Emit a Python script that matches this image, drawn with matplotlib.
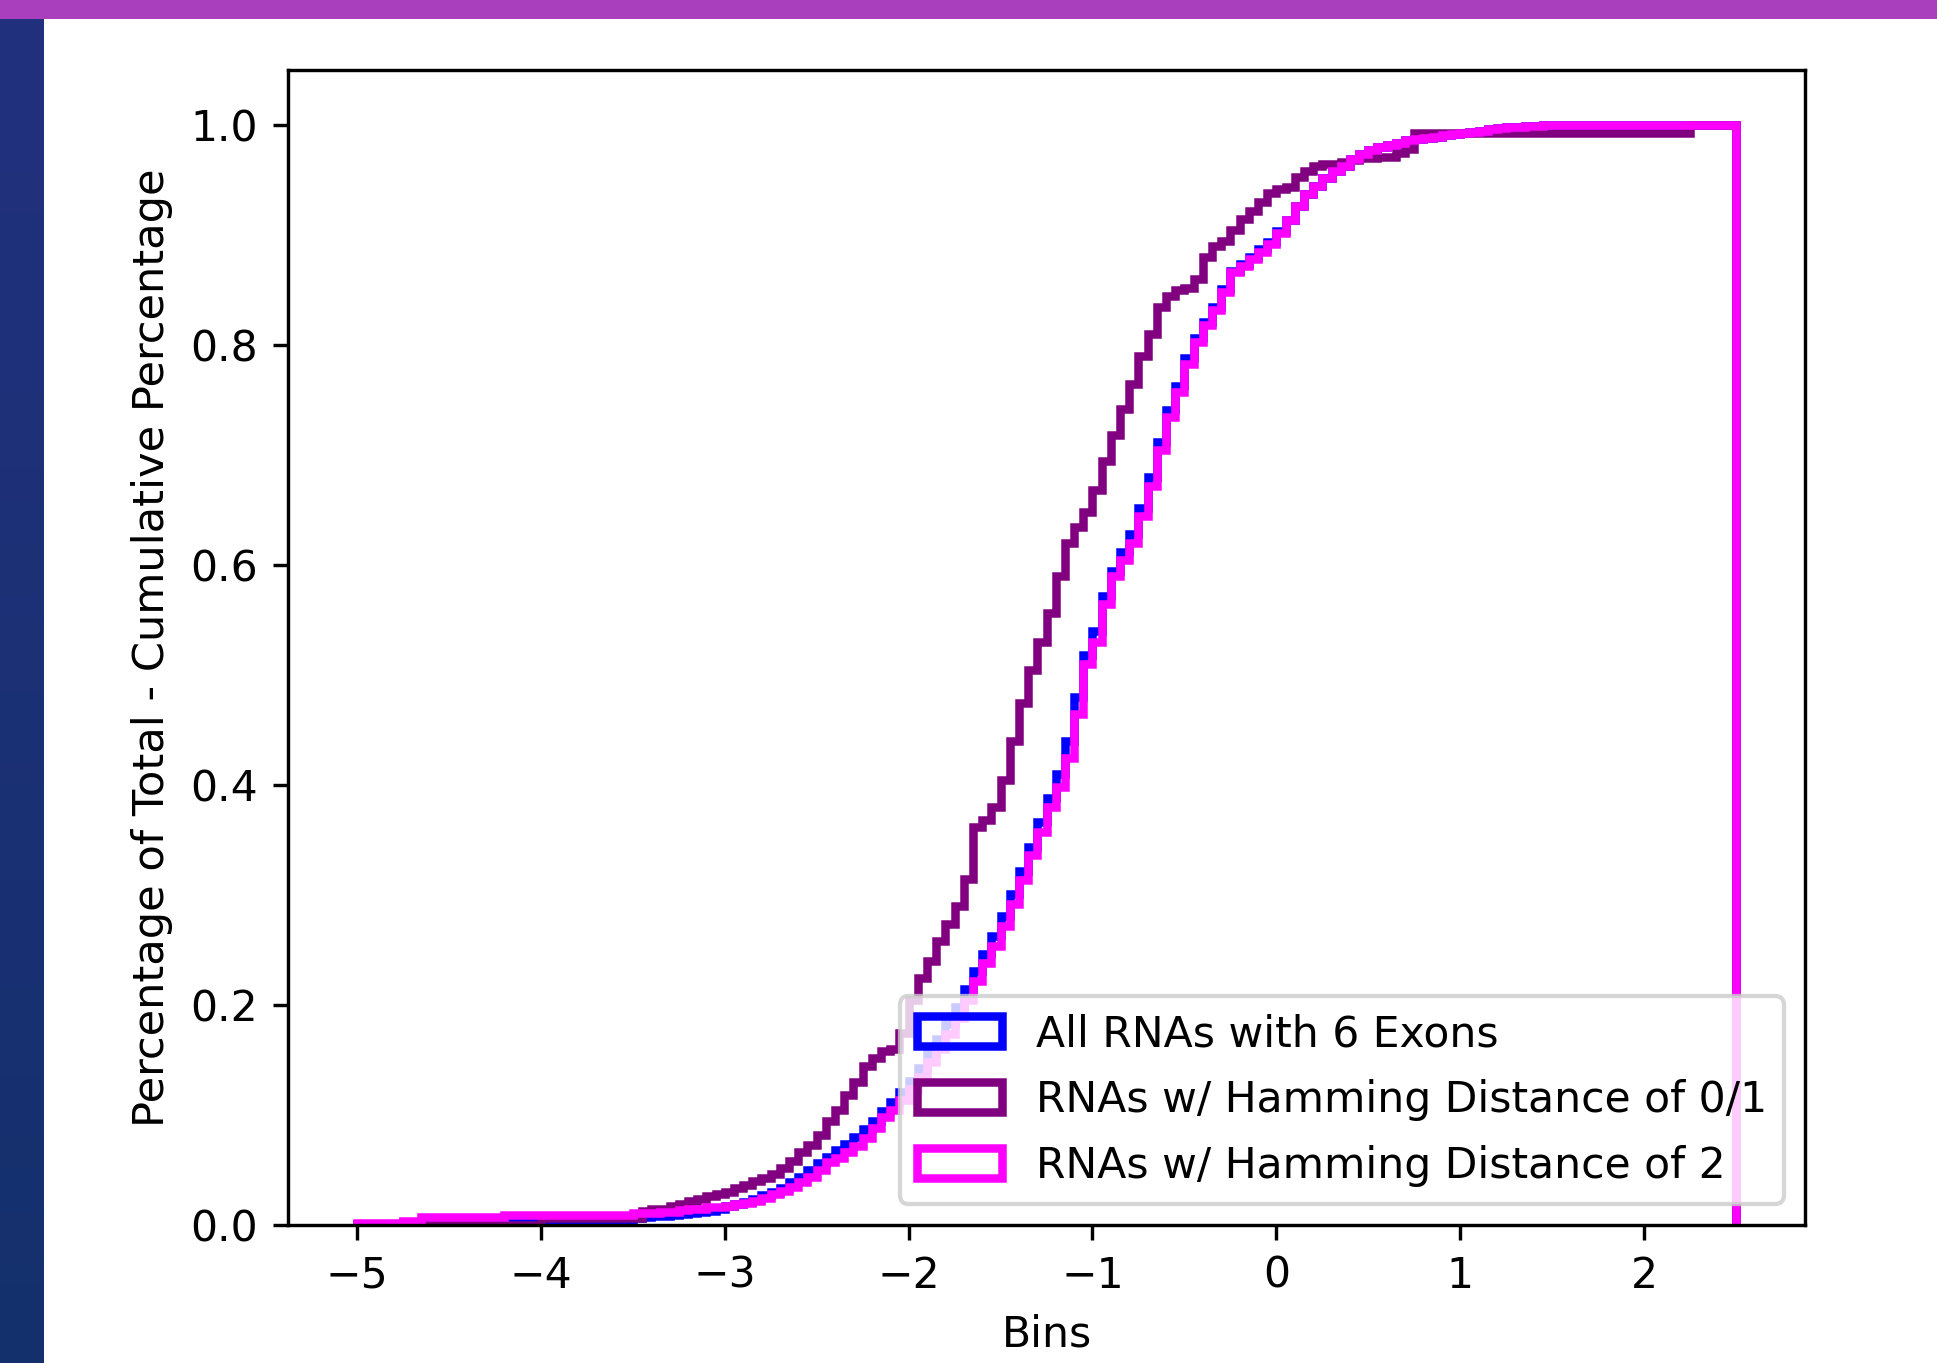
import numpy as np
import matplotlib
matplotlib.use("Agg")
import matplotlib.pyplot as plt
from matplotlib.patches import Rectangle
from matplotlib.colors import LinearSegmentedColormap

# Shared histogram bins: -5 .. 2.5 in steps of 0.05 (150 bins)
bin_edges = np.linspace(-5.0, 2.5, 151)

# Cumulative fraction per bin (left edge -5.00, -4.95, ... 2.45)
cdf_all = [
    0.001, 0.001, 0.001, 0.001, 0.001, 0.003, 0.003, 0.003, 0.003, 0.003,
    0.003, 0.003, 0.003, 0.003, 0.003, 0.003, 0.005, 0.005, 0.005, 0.005,
    0.005, 0.005, 0.005, 0.005, 0.005, 0.005, 0.005, 0.005, 0.005, 0.005,
    0.006, 0.007, 0.008, 0.008, 0.009, 0.010, 0.011, 0.012, 0.013, 0.015,
    0.017, 0.019, 0.021, 0.024, 0.027, 0.030, 0.034, 0.039, 0.044, 0.050,
    0.056, 0.062, 0.068, 0.074, 0.080, 0.087, 0.095, 0.104, 0.112, 0.121,
    0.131, 0.143, 0.156, 0.169, 0.183, 0.198, 0.215, 0.231, 0.246, 0.263,
    0.281, 0.301, 0.322, 0.344, 0.366, 0.388, 0.410, 0.440, 0.480, 0.518,
    0.540, 0.572, 0.595, 0.612, 0.628, 0.652, 0.680, 0.712, 0.741, 0.763,
    0.788, 0.806, 0.821, 0.835, 0.851, 0.867, 0.874, 0.880, 0.887, 0.894,
    0.904, 0.914, 0.926, 0.937, 0.945, 0.952, 0.958, 0.963, 0.969, 0.974,
    0.977, 0.980, 0.982, 0.984, 0.986, 0.987, 0.988, 0.989, 0.991, 0.992,
    0.993, 0.994, 0.995, 0.996, 0.997, 0.998, 0.998, 0.999, 0.999, 1.000,
    1.000, 1.000, 1.000, 1.000, 1.000, 1.000, 1.000, 1.000, 1.000, 1.000,
    1.000, 1.000, 1.000, 1.000, 1.000, 1.000, 1.000, 1.000, 1.000, 1.000,
]

cdf_hd01 = [
    0.000, 0.000, 0.000, 0.000, 0.000, 0.000, 0.000, 0.000, 0.000, 0.000,
    0.000, 0.000, 0.000, 0.000, 0.000, 0.000, 0.000, 0.000, 0.000, 0.000,
    0.006, 0.006, 0.006, 0.006, 0.006, 0.006, 0.006, 0.006, 0.006, 0.006,
    0.006, 0.013, 0.015, 0.015, 0.017, 0.019, 0.022, 0.024, 0.026, 0.028,
    0.030, 0.034, 0.036, 0.040, 0.043, 0.046, 0.052, 0.058, 0.066, 0.073,
    0.082, 0.095, 0.105, 0.118, 0.130, 0.145, 0.152, 0.158, 0.160, 0.175,
    0.205, 0.225, 0.240, 0.258, 0.274, 0.290, 0.315, 0.362, 0.368, 0.380,
    0.405, 0.440, 0.475, 0.505, 0.530, 0.556, 0.590, 0.620, 0.635, 0.648,
    0.668, 0.695, 0.718, 0.742, 0.765, 0.790, 0.810, 0.835, 0.845, 0.850,
    0.852, 0.860, 0.880, 0.890, 0.895, 0.905, 0.915, 0.922, 0.930, 0.938,
    0.942, 0.944, 0.953, 0.958, 0.963, 0.965, 0.965, 0.966, 0.968, 0.970,
    0.970, 0.971, 0.971, 0.975, 0.978, 0.9925, 0.9925, 0.9925, 0.9925, 0.9925,
    0.9925, 0.9925, 0.9925, 0.9925, 0.9925, 0.9925, 0.9925, 0.9925, 0.9925, 0.9925,
    0.9925, 0.9925, 0.9925, 0.9925, 0.9925, 0.9925, 0.9925, 0.9925, 0.9925, 0.9925,
    0.9925, 0.9925, 0.9925, 0.9925, 0.9925, 1.000, 1.000, 1.000, 1.000, 1.000,
]

cdf_hd2 = [
    0.002, 0.002, 0.002, 0.002, 0.002, 0.004, 0.004, 0.007, 0.007, 0.007,
    0.007, 0.007, 0.007, 0.007, 0.007, 0.007, 0.009, 0.009, 0.009, 0.009,
    0.009, 0.009, 0.009, 0.009, 0.009, 0.009, 0.009, 0.009, 0.009, 0.009,
    0.011, 0.011, 0.011, 0.012, 0.012, 0.014, 0.015, 0.015, 0.016, 0.016,
    0.017, 0.019, 0.020, 0.022, 0.025, 0.028, 0.031, 0.035, 0.039, 0.044,
    0.050, 0.057, 0.061, 0.066, 0.072, 0.079, 0.088, 0.098, 0.105, 0.114,
    0.124, 0.135, 0.148, 0.160, 0.174, 0.188, 0.205, 0.222, 0.238, 0.254,
    0.272, 0.292, 0.314, 0.336, 0.357, 0.380, 0.398, 0.425, 0.465, 0.510,
    0.530, 0.565, 0.590, 0.605, 0.620, 0.645, 0.672, 0.705, 0.735, 0.757,
    0.783, 0.803, 0.818, 0.832, 0.848, 0.866, 0.872, 0.878, 0.885, 0.892,
    0.902, 0.914, 0.926, 0.937, 0.945, 0.952, 0.958, 0.963, 0.969, 0.974,
    0.977, 0.980, 0.982, 0.984, 0.986, 0.987, 0.988, 0.989, 0.991, 0.992,
    0.993, 0.994, 0.995, 0.996, 0.997, 0.998, 0.998, 0.999, 0.999, 1.000,
    1.000, 1.000, 1.000, 1.000, 1.000, 1.000, 1.000, 1.000, 1.000, 1.000,
    1.000, 1.000, 1.000, 1.000, 1.000, 1.000, 1.000, 1.000, 1.000, 1.000,
]

series_labels = [
    "All RNAs with 6 Exons",
    "RNAs w/ Hamming Distance of 0/1",
    "RNAs w/ Hamming Distance of 2",
]
series_colors = ["blue", "purple", "magenta"]

W, H, DPI = 1937, 1363, 306
fig = plt.figure(figsize=(W / DPI, H / DPI), dpi=DPI)
fig.patch.set_facecolor("white")

# Slide decoration: title band and dark blue side strip
band_h = 19 / H
strip_w = 44 / W
fig.patches.append(Rectangle((0, 1 - band_h), 1, band_h, transform=fig.transFigure,
                             facecolor="#AA3FBE", edgecolor="none", zorder=0))
strip_ax = fig.add_axes([0, 0, strip_w, 1 - band_h])
strip_cmap = LinearSegmentedColormap.from_list("strip", ["#22317E", "#14306C"])
strip_ax.imshow(np.linspace(0, 1, 256).reshape(-1, 1), aspect="auto", cmap=strip_cmap)
strip_ax.set_axis_off()

ax = fig.add_axes([288 / W, 1 - 1225 / H, (1805 - 288) / W, (1225 - 70) / H])

centers = (bin_edges[:-1] + bin_edges[1:]) / 2
for cdf, label, color in zip([cdf_all, cdf_hd01, cdf_hd2], series_labels, series_colors):
    per_bin = np.diff(np.concatenate([[0.0], cdf]))
    ax.hist(centers, bins=bin_edges, weights=per_bin, cumulative=True,
            histtype="step", color=color, linewidth=2, label=label)

ax.set_xlabel("Bins")
ax.set_ylabel("Percentage of Total - Cumulative Percentage", fontsize=10.2)
ax.legend(loc="lower right", labelspacing=0.56)

fig.savefig("out.png", dpi=DPI)
